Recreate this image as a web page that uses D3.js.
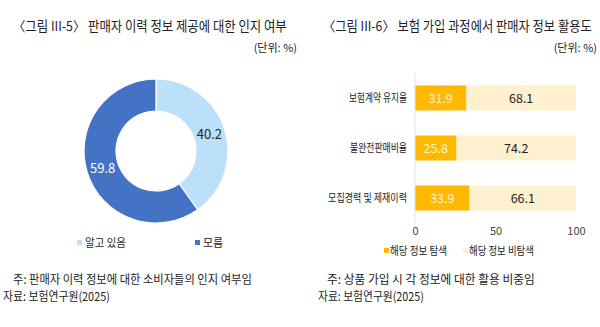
<!DOCTYPE html>
<html>
<head>
<meta charset="utf-8">
<script src="https://cdn.jsdelivr.net/npm/d3@7"></script>
<style>
  html, body { margin: 0; padding: 0; background: #fff; }
  svg { display: block; }
  text { font-family: "Noto Sans CJK KR", "Noto Sans", sans-serif; }
</style>
</head>
<body>
<svg id="chart" width="600" height="327"></svg>
<script>
// Figure III-5: awareness of seller history information (donut)
const awareLabels = ["알고 있음", "모름"];
const awareValues = [40.2, 59.8];

// Figure III-6: use of seller information when buying insurance (stacked bars)
const infoCategories = ["보험계약 유지율", "불완전판매비율", "모집경력 및 제재이력"];
const searchedValues = [31.9, 25.8, 33.9];
const notSearchedValues = [68.1, 74.2, 66.1];
const seriesNames = ["해당 정보 탐색", "해당 정보 비탐색"];
const xTicks = [0, 50, 100];

const titles = ["〈그림 III-5〉 판매자 이력 정보 제공에 대한 인지 여부",
                "〈그림 III-6〉 보험 가입 과정에서 판매자 정보 활용도"];
const unitLabel = "(단위: %)";
const notes = ["주: 판매자 이력 정보에 대한 소비자들의 인지 여부임",
               "주: 상품 가입 시 각 정보에 대한 활용 비중임"];
const sourceLabel = "자료: 보험연구원(2025)";

const svg = d3.select("#chart");
const textColor = "#222";

// Narrow a text horizontally (about its anchor point) so it spans `width`.
function squeeze(node, width) {
  const w = node.getComputedTextLength();
  if (w <= width) return;
  const k = width / w;
  const t = d3.select(node);
  const x = +t.attr("x") || 0, y = +t.attr("y") || 0;
  t.attr("x", 0).attr("y", 0)
    .attr("transform", `translate(${x},${y}) scale(${k.toFixed(4)},1)`);
}

function addText(parent, x, y, str, size, width, anchor) {
  const t = parent.append("text").attr("x", x).attr("y", y).attr("font-size", size)
    .attr("fill", textColor).attr("text-anchor", anchor || "start").text(str);
  if (width) squeeze(t.node(), width);
  return t;
}

// ---------- headings ----------
addText(svg, 13, 31, titles[0], 13.5, 274);
addText(svg, 323, 31, titles[1], 13.5, 269);
addText(svg, 297, 52, unitLabel, 11, 47, "end");
addText(svg, 597, 52, unitLabel, 11, 47, "end");

// ---------- donut ----------
const donutColors = d3.scaleOrdinal().domain(awareLabels).range(["#BDE0FA", "#4472C4"]);
const pie = d3.pie().sort(null).value(d => d.value);
const arcs = pie(awareLabels.map((l, i) => ({ label: l, value: awareValues[i] })));
const outerR = 72, innerR = 40;
const arc = d3.arc().innerRadius(innerR).outerRadius(outerR);
const labelArc = d3.arc().innerRadius(56).outerRadius(56);
const donut = svg.append("g").attr("transform", "translate(156,151)");
donut.selectAll("path").data(arcs).join("path")
  .attr("d", arc).attr("fill", d => donutColors(d.data.label))
  .attr("stroke", "#fff").attr("stroke-width", 1.2);
donut.selectAll("text").data(arcs).join("text")
  .attr("transform", d => `translate(${labelArc.centroid(d)})`)
  .attr("text-anchor", "middle").attr("dy", "0.36em").attr("font-size", 13)
  .attr("fill", (d, i) => i === 0 ? "#222" : "#fff")
  .text(d => d.data.value.toFixed(1));

// donut legend
const donutLegendX = [80, 198];
const donutLegendW = [41, 22];
awareLabels.forEach((l, i) => {
  const g = svg.append("g").attr("transform", `translate(${donutLegendX[i]},243)`);
  g.append("rect").attr("x", -3).attr("y", -3).attr("width", 5).attr("height", 5)
    .attr("fill", donutColors(l));
  addText(g, 5, 4, l, 11, donutLegendW[i]);
});

// ---------- stacked bars ----------
const x = d3.scaleLinear().domain([0, 100]).range([415, 576]);
const y = d3.scaleBand().domain(infoCategories).range([73, 223]).paddingInner(0.5).paddingOuter(0.25);
const barColors = ["#FFB900", "#FFF0CF"];

const rows = infoCategories.map((c, i) => ({ cat: c, a: searchedValues[i], b: notSearchedValues[i] }));
const stack = d3.stack().keys(["a", "b"])(rows);

const bars = svg.append("g");
stack.forEach((layer, li) => {
  bars.append("g").selectAll("rect").data(layer).join("rect")
    .attr("x", d => x(d[0])).attr("width", d => x(d[1]) - x(d[0]))
    .attr("y", d => y(d.data.cat)).attr("height", y.bandwidth())
    .attr("fill", barColors[li]);
  bars.append("g").selectAll("text").data(layer).join("text")
    .attr("x", d => (x(d[0]) + x(d[1])) / 2)
    .attr("y", d => y(d.data.cat) + y.bandwidth() / 2)
    .attr("dy", "0.36em").attr("text-anchor", "middle").attr("font-size", 12.5)
    .attr("fill", li === 0 ? "#FFF3D0" : "#222")
    .text(d => (d[1] - d[0]).toFixed(1));
});

// category axis
const catWidths = [58, 57, 79];
const yAxis = svg.append("g").attr("transform", "translate(415,0)")
  .call(d3.axisLeft(y).tickSize(0).tickPadding(8));
yAxis.select(".domain").attr("stroke", "#e3e3e3").attr("d", "M0,73V223");
yAxis.selectAll(".tick text").attr("font-size", 11).attr("fill", textColor)
  .attr("dy", null).attr("y", 4)
  .style("font-family", '"Noto Sans CJK KR", sans-serif')
  .each(function (d, i) { squeeze(this, catWidths[i]); });

// value axis (labels only)
const xAxis = svg.append("g").attr("transform", "translate(0,224)")
  .call(d3.axisBottom(x).tickValues(xTicks).tickSize(0).tickPadding(3));
xAxis.select(".domain").remove();
xAxis.selectAll("text").attr("font-size", 11).attr("fill", "#444")
  .style("font-family", '"Noto Sans CJK KR", sans-serif');

// bar legend
const barLegendX = [387, 466];
const barLegendW = [57, 65];
seriesNames.forEach((s, i) => {
  const g = svg.append("g").attr("transform", `translate(${barLegendX[i]},251)`);
  g.append("rect").attr("x", -3).attr("y", -3).attr("width", 5).attr("height", 5)
    .attr("fill", barColors[i]);
  addText(g, 3, 4, s, 11, barLegendW[i]);
});

// ---------- notes ----------
addText(svg, 13, 284, notes[0], 12, 239);
addText(svg, 3, 301, sourceLabel, 12, 107);
addText(svg, 327, 284, notes[1], 12, 208);
addText(svg, 318, 301, sourceLabel, 12, 106);
</script>
</body>
</html>
